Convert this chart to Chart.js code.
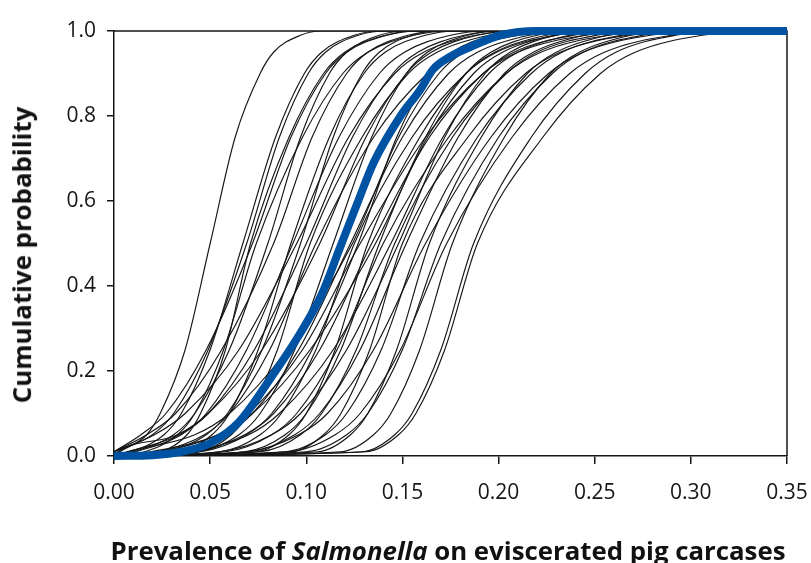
<!DOCTYPE html>
<html>
<head>
<meta charset="utf-8">
<script src="https://cdn.jsdelivr.net/npm/chart.js@4.4.1/dist/chart.umd.min.js"></script>
<style>
  html, body { margin: 0; padding: 0; background: #fff; }
  #wrap { position: relative; width: 811px; height: 563px; overflow: hidden; }
  #ch { position: absolute; left: 0; top: 0; }
  .ttl { position: absolute; font-family: 'Open Sans', sans-serif; font-weight: 700; font-size: 25.8px;
         line-height: 25.8px; white-space: nowrap; color: #111; }
  #xTitle { left: 448px; top: 538px; transform: translateX(-50%); }
  #yTitle { left: 22px; top: 255px; transform: translate(-50%, -50%) rotate(-90deg); }
</style>
</head>
<body>
<div id="wrap">
  <canvas id="ch" width="811" height="563"></canvas>
  <div class="ttl" id="xTitle">Prevalence of <i>Salmonella</i> on eviscerated pig carcases</div>
  <div class="ttl" id="yTitle">Cumulative probability</div>
</div>
<script>
// cumulative probability levels; each simulated curve below gives the prevalence at these levels
const probLevels = [0.01, 0.05, 0.1, 0.25, 0.5, 0.75, 0.9, 0.95, 0.99, 1.0];

// thin black curves (one row per simulation)
const simCurves = [
  [0.003, 0.017, 0.024, 0.037, 0.050, 0.063, 0.076, 0.083, 0.097, 0.108],
  [0.009, 0.026, 0.035, 0.050, 0.067, 0.084, 0.099, 0.108, 0.125, 0.140],
  [0.000, 0.020, 0.031, 0.049, 0.069, 0.086, 0.101, 0.110, 0.127, 0.142],
  [0.024, 0.038, 0.045, 0.058, 0.071, 0.091, 0.109, 0.120, 0.141, 0.158],
  [0.000, 0.014, 0.027, 0.048, 0.072, 0.092, 0.110, 0.121, 0.142, 0.159],
  [0.016, 0.033, 0.042, 0.057, 0.074, 0.098, 0.119, 0.132, 0.156, 0.176],
  [0.010, 0.031, 0.042, 0.060, 0.080, 0.097, 0.112, 0.121, 0.138, 0.153],
  [0.000, 0.017, 0.032, 0.056, 0.083, 0.103, 0.121, 0.132, 0.153, 0.170],
  [0.034, 0.051, 0.060, 0.075, 0.092, 0.112, 0.130, 0.141, 0.162, 0.179],
  [0.011, 0.035, 0.048, 0.069, 0.093, 0.117, 0.138, 0.151, 0.175, 0.195],
  [0.000, 0.021, 0.037, 0.065, 0.095, 0.122, 0.146, 0.161, 0.188, 0.211],
  [0.027, 0.048, 0.059, 0.077, 0.097, 0.114, 0.129, 0.138, 0.155, 0.170],
  [0.007, 0.034, 0.049, 0.073, 0.100, 0.124, 0.145, 0.158, 0.182, 0.202],
  [0.044, 0.061, 0.070, 0.085, 0.102, 0.129, 0.153, 0.168, 0.195, 0.218],
  [0.023, 0.047, 0.060, 0.081, 0.105, 0.135, 0.163, 0.179, 0.210, 0.236],
  [0.002, 0.033, 0.049, 0.077, 0.107, 0.131, 0.152, 0.165, 0.189, 0.209],
  [0.044, 0.065, 0.076, 0.094, 0.114, 0.134, 0.152, 0.163, 0.184, 0.201],
  [0.030, 0.057, 0.072, 0.096, 0.123, 0.150, 0.174, 0.189, 0.216, 0.239],
  [0.007, 0.042, 0.060, 0.090, 0.124, 0.148, 0.169, 0.182, 0.206, 0.226],
  [0.055, 0.076, 0.087, 0.105, 0.125, 0.155, 0.183, 0.199, 0.230, 0.256],
  [0.045, 0.069, 0.082, 0.103, 0.127, 0.147, 0.165, 0.176, 0.197, 0.214],
  [0.023, 0.054, 0.070, 0.098, 0.128, 0.162, 0.192, 0.210, 0.245, 0.273],
  [0.074, 0.091, 0.100, 0.115, 0.132, 0.159, 0.183, 0.198, 0.225, 0.248],
  [0.041, 0.068, 0.083, 0.107, 0.134, 0.164, 0.192, 0.208, 0.239, 0.265],
  [0.019, 0.054, 0.072, 0.102, 0.136, 0.163, 0.187, 0.202, 0.229, 0.252],
  [0.068, 0.089, 0.100, 0.118, 0.138, 0.162, 0.183, 0.196, 0.220, 0.240],
  [0.058, 0.082, 0.095, 0.116, 0.140, 0.174, 0.204, 0.222, 0.257, 0.285],
  [0.039, 0.070, 0.086, 0.114, 0.144, 0.171, 0.195, 0.210, 0.237, 0.260],
  [0.076, 0.097, 0.108, 0.126, 0.146, 0.176, 0.204, 0.220, 0.251, 0.277],
  [0.055, 0.082, 0.097, 0.121, 0.148, 0.172, 0.193, 0.206, 0.230, 0.250],
  [0.092, 0.109, 0.118, 0.133, 0.150, 0.184, 0.214, 0.232, 0.267, 0.295],
  [0.070, 0.094, 0.107, 0.128, 0.152, 0.179, 0.203, 0.218, 0.245, 0.268],
  [0.089, 0.110, 0.121, 0.139, 0.159, 0.189, 0.217, 0.233, 0.264, 0.290],
  [0.069, 0.096, 0.111, 0.135, 0.162, 0.196, 0.226, 0.244, 0.279, 0.307],
  [0.106, 0.123, 0.132, 0.147, 0.164, 0.191, 0.215, 0.230, 0.257, 0.280],
  [0.100, 0.121, 0.132, 0.150, 0.170, 0.200, 0.228, 0.244, 0.275, 0.301],
  [0.091, 0.115, 0.128, 0.149, 0.173, 0.207, 0.237, 0.255, 0.290, 0.318],
  [0.118, 0.135, 0.144, 0.159, 0.176, 0.203, 0.227, 0.242, 0.269, 0.292],
  [0.129, 0.146, 0.155, 0.170, 0.187, 0.217, 0.245, 0.261, 0.292, 0.318],
  [0.131, 0.148, 0.157, 0.172, 0.189, 0.223, 0.253, 0.271, 0.306, 0.334]
];

// thick blue curve
const blueX = [0, 0.02, 0.035, 0.05, 0.065, 0.081, 0.097, 0.108, 0.1175, 0.127, 0.135, 0.149, 0.159, 0.166, 0.175, 0.184, 0.201, 0.22, 0.35];
const blueY = [0, 0.002, 0.01, 0.03, 0.08, 0.18, 0.29, 0.38, 0.49, 0.6, 0.69, 0.8, 0.86, 0.91, 0.94, 0.96, 0.99, 1.0, 1.0];

const xTicks = [0, 0.05, 0.1, 0.15, 0.2, 0.25, 0.3, 0.35];
const yTicks = [0, 0.2, 0.4, 0.6, 0.8, 1.0];

const INK = '#161616';
const BLUE = '#0053a3';
const tickFont = { family: "'Open Sans', sans-serif", size: 21 };

function curvePts(q) {
  const pts = [];
  if (q[0] > 0) pts.push({ x: 0, y: 0 });
  q.forEach((x, i) => pts.push({ x: x, y: probLevels[i] }));
  pts.push({ x: 0.35, y: 1 });
  return pts;
}

const datasets = [{
  data: blueX.map((x, i) => ({ x: x, y: blueY[i] })),
  borderColor: BLUE, borderWidth: 8, order: 0, clip: false,
  borderCapStyle: 'butt', borderJoinStyle: 'round'
}];
simCurves.forEach(q => datasets.push({
  data: curvePts(q), borderColor: INK, borderWidth: 1.15, order: 1
}));

// top and right edges of the plot frame, under the curves
const frame = {
  id: 'frame',
  beforeDatasetsDraw(c) {
    const a = c.chartArea, g = c.ctx;
    g.save();
    g.strokeStyle = INK; g.lineWidth = 1.5;
    g.beginPath();
    g.moveTo(a.left, a.top); g.lineTo(a.right, a.top); g.lineTo(a.right, a.bottom);
    g.stroke();
    g.restore();
  }
};

new Chart(document.getElementById('ch'), {
  type: 'line',
  data: { datasets },
  plugins: [frame],
  options: {
    responsive: false, animation: false,
    layout: { padding: { top: 31, right: 24, left: 0, bottom: 0 } },
    plugins: { legend: { display: false }, tooltip: { enabled: false } },
    elements: { point: { radius: 0 }, line: { cubicInterpolationMode: 'monotone' } },
    scales: {
      x: {
        type: 'linear', min: 0, max: 0.35,
        afterFit: s => { s.height = 107; s.paddingLeft = 0; s.paddingRight = 0; },
        afterBuildTicks: s => { s.ticks = xTicks.map(v => ({ value: v })); },
        ticks: { callback: v => v.toFixed(2), font: tickFont, color: INK, padding: 16, maxRotation: 0, autoSkip: false },
        grid: { drawOnChartArea: false, tickLength: 8, color: INK, lineWidth: 1.5 },
        border: { color: INK, width: 1.5 }
      },
      y: {
        type: 'linear', min: 0, max: 1,
        afterFit: s => { s.width = 114; s.paddingTop = 0; s.paddingBottom = 0; },
        afterBuildTicks: s => { s.ticks = yTicks.map(v => ({ value: v })); },
        ticks: { callback: v => v.toFixed(1), font: tickFont, color: INK, padding: 11 },
        grid: { drawOnChartArea: false, tickLength: 7, color: INK, lineWidth: 1.5 },
        border: { color: INK, width: 1.5 }
      }
    }
  }
});
</script>
</body>
</html>
